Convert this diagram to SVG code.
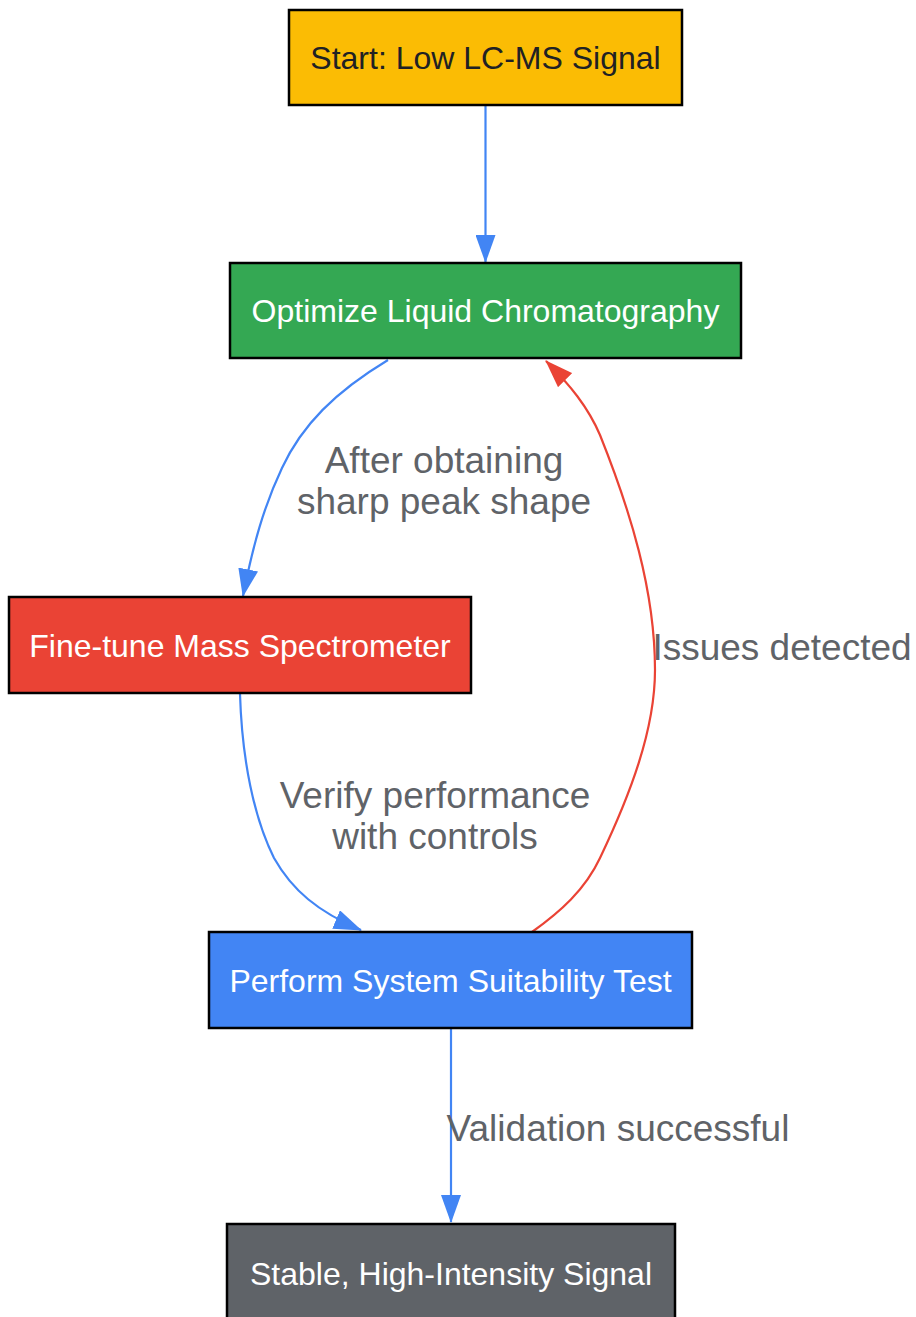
<svg xmlns="http://www.w3.org/2000/svg" width="916" height="1317" viewBox="0 0 916 1317">
<style>
.node rect{stroke:#000;stroke-width:2.5}
.ntext{font-family:"Liberation Sans",Arial,sans-serif;font-size:32px;text-anchor:middle;fill:#fff}
.elabel{font-family:"Liberation Sans",Arial,sans-serif;font-size:37px;text-anchor:middle;fill:#5f6368}
.blue{fill:none;stroke:#4285F4;stroke-width:2.2}
.red{fill:none;stroke:#EA4335;stroke-width:2.2}
</style>
<defs>
<marker id="ab" viewBox="0 0 28 20" refX="27" refY="10" markerWidth="28" markerHeight="20" markerUnits="userSpaceOnUse" orient="auto">
<path d="M0,0 L28,10 L0,20 z" fill="#4285F4"/>
</marker>
<marker id="ar" viewBox="0 0 28 20" refX="27" refY="10" markerWidth="28" markerHeight="20" markerUnits="userSpaceOnUse" orient="auto">
<path d="M0,0 L28,10 L0,20 z" fill="#EA4335"/>
</marker>
</defs>
<rect width="916" height="1317" fill="#fff"/>
<g id="connectors">
<path class="blue" d="M485.5,106 L485.5,262" marker-end="url(#ab)"/>
<path class="blue" d="M388,360 C335,392 302,425 282,468 C264,506 253,545 243,596" marker-end="url(#ab)"/>
<path class="blue" d="M240,694 C242,760 254,818 274,858 C292,890 318,912 361,930" marker-end="url(#ab)"/>
<path class="red" d="M532,932 C560,912 585,890 600,858 C630,795 655,730 655,670 C655,590 630,510 600,435 C588,407 570,385 546,361" marker-end="url(#ar)"/>
<path class="blue" d="M451,1029 L451,1222" marker-end="url(#ab)"/>
<text class="elabel" x="444" y="473">After obtaining</text>
<text class="elabel" x="444" y="514">sharp peak shape</text>
<text class="elabel" x="435" y="808">Verify performance</text>
<text class="elabel" x="435" y="849">with controls</text>
<text class="elabel" x="782" y="660">Issues detected</text>
<text class="elabel" x="618" y="1141">Validation successful</text>
</g>
<g id="start" class="node">
<rect x="289" y="10" width="393" height="95" fill="#FBBC04"/>
<text class="ntext" x="485.5" y="69" style="fill:#202124">Start: Low LC-MS Signal</text>
</g>
<g id="optimize" class="node">
<rect x="230" y="263" width="511" height="95" fill="#34A853"/>
<text class="ntext" x="485.5" y="322">Optimize Liquid Chromatography</text>
</g>
<g id="finetune" class="node">
<rect x="9" y="597" width="462" height="96" fill="#EA4335"/>
<text class="ntext" x="240" y="657">Fine-tune Mass Spectrometer</text>
</g>
<g id="sst" class="node">
<rect x="209" y="932" width="483" height="96" fill="#4285F4"/>
<text class="ntext" x="450.5" y="992">Perform System Suitability Test</text>
</g>
<g id="stable" class="node">
<rect x="227" y="1224" width="448" height="96" fill="#5F6368"/>
<text class="ntext" x="451" y="1285">Stable, High-Intensity Signal</text>
</g>
</svg>
